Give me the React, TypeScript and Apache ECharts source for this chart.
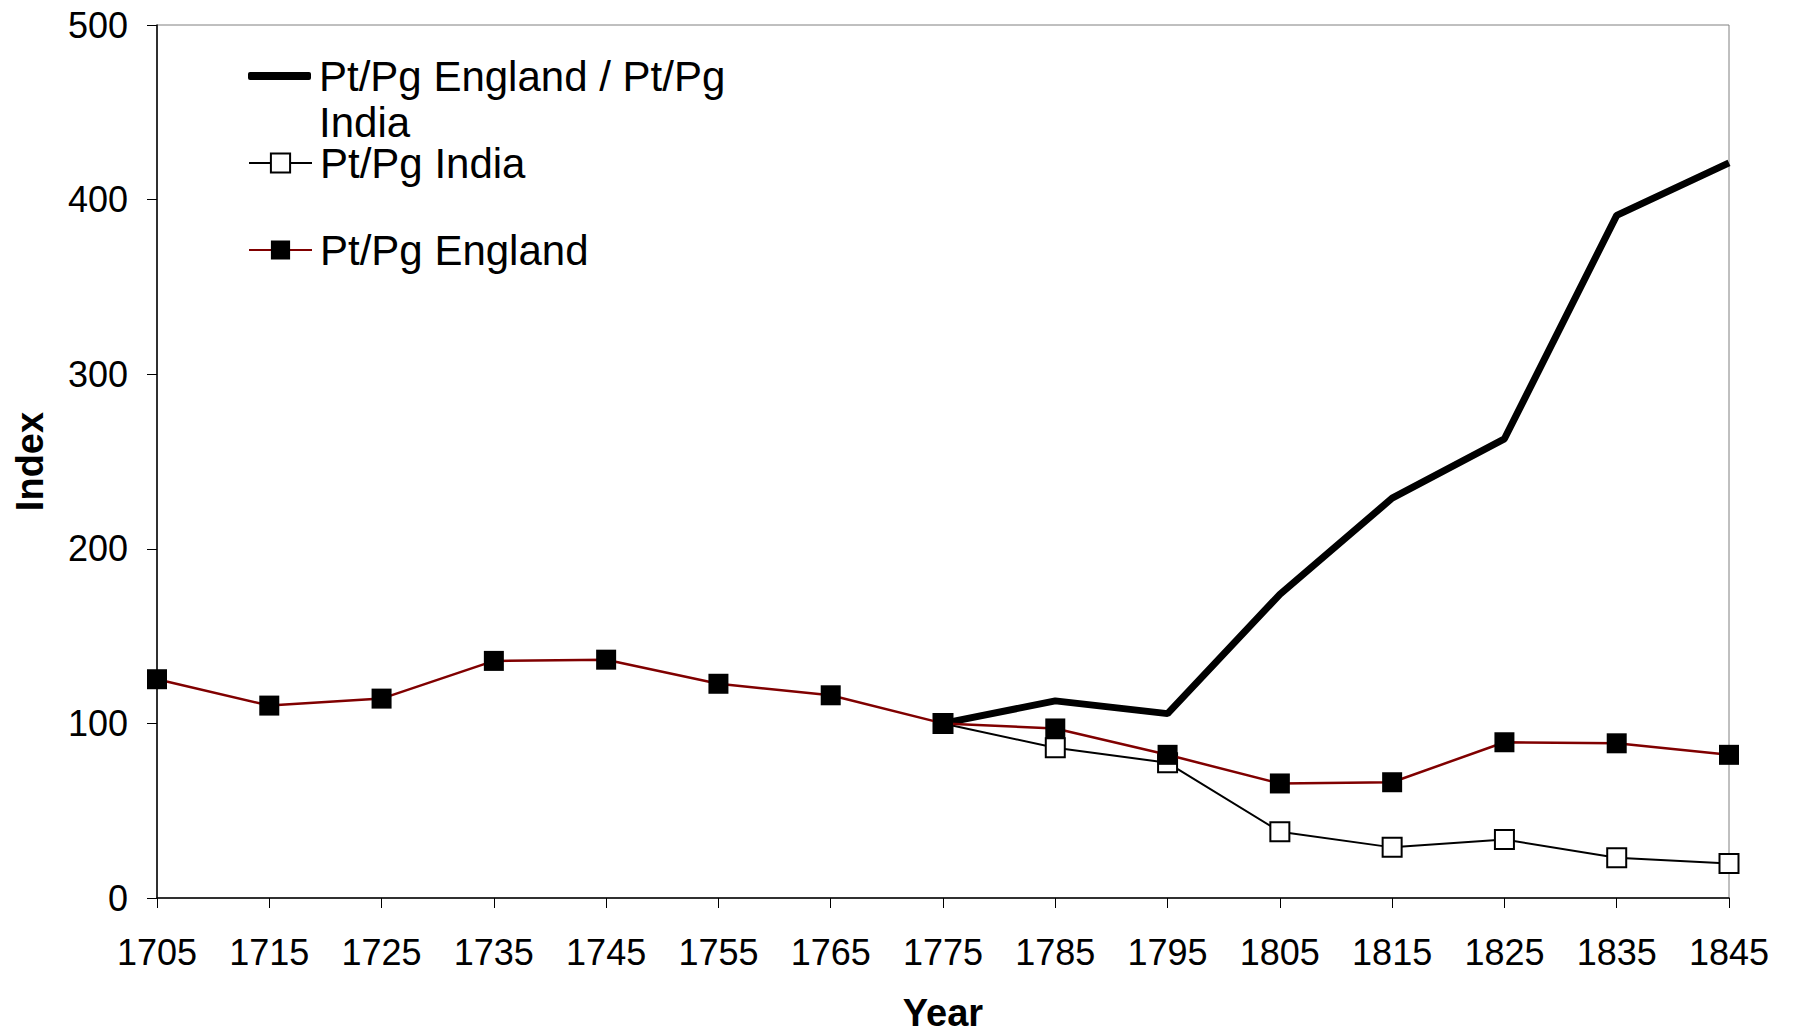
import React, { useEffect, useRef } from "react";
import * as echarts from "echarts";

const years = ["1705","1715","1725","1735","1745","1755","1765","1775","1785","1795","1805","1815","1825","1835","1845"];
const ratioName = "Pt/Pg England / Pt/Pg India";
const indiaName = "Pt/Pg India";
const englandName = "Pt/Pg England";
const ratioValues = [null,null,null,null,null,null,null,100,112.9,105.6,173.9,229,263,391,421];
const indiaValues = [null,null,null,null,null,null,null,100,86,77.4,38,29,33.5,23,19.7];
const englandValues = [125.3,110.2,114.2,135.8,136.5,122.7,116.1,100,97.1,82,65.6,66.3,89.2,88.6,82];
const yTicks = { min: 0, max: 500, interval: 100 };

const FONT = "'Liberation Sans', Arial, sans-serif";

export default function App() {
  const ref = useRef<HTMLDivElement>(null);
  useEffect(() => {
    if (!ref.current) return;
    const chart = echarts.init(ref.current, null, { renderer: "svg" });
    const legendBase = {
      orient: "vertical" as const,
      left: 248,
      padding: 0,
      itemWidth: 63,
      itemHeight: 24,
      selectedMode: false,
      textStyle: { fontFamily: FONT, fontSize: 42, color: "#000", lineHeight: 46, padding: [0, 0, 0, 3] },
    };
    chart.setOption({
      animation: false,
      backgroundColor: "#fff",
      textStyle: { fontFamily: FONT },
      grid: {
        left: 157, right: 66, top: 25, bottom: 136,
        show: true, borderColor: "#808080", borderWidth: 1,
        containLabel: false,
        outerBoundsMode: "none",
      },
      legend: [
        {
          ...legendBase,
          top: 7,
          itemHeight: 8,
          data: [{ name: ratioName, icon: "roundRect" }],
          formatter: () => "\nPt/Pg England / Pt/Pg\nIndia",
        },
        { ...legendBase, top: 140, data: [indiaName] },
        { ...legendBase, top: 227, data: [englandName] },
      ],
      xAxis: {
        type: "category",
        data: years,
        boundaryGap: false,
        name: "Year",
        nameLocation: "middle",
        nameGap: 96,
        nameTextStyle: { fontFamily: FONT, fontSize: 38, fontWeight: "bold", color: "#000" },
        axisLine: { lineStyle: { color: "#000", width: 1.5 } },
        axisTick: { show: true, length: 10, lineStyle: { color: "#000" }, interval: 0 },
        axisLabel: { interval: 0, fontSize: 36, color: "#000", margin: 36, fontFamily: FONT },
        splitLine: { show: false },
      },
      yAxis: {
        type: "value",
        min: yTicks.min,
        max: yTicks.max,
        interval: yTicks.interval,
        name: "Index",
        nameLocation: "middle",
        nameGap: 108,
        nameTextStyle: { fontFamily: FONT, fontSize: 38, fontWeight: "bold", color: "#000" },
        axisLine: { show: true, lineStyle: { color: "#000", width: 1.5 } },
        axisTick: { show: true, length: 10, lineStyle: { color: "#000" } },
        axisLabel: { fontSize: 36, color: "#000", margin: 29, fontFamily: FONT },
        splitLine: { show: false },
      },
      series: [
        {
          name: ratioName,
          type: "line",
          data: ratioValues,
          symbol: "none",
          lineStyle: { color: "#000", width: 7 },
          itemStyle: { color: "#000" },
          z: 2,
        },
        {
          name: indiaName,
          type: "line",
          data: indiaValues,
          symbol: "rect",
          symbolSize: 19,
          lineStyle: { color: "#000", width: 2 },
          itemStyle: { color: "#fff", borderColor: "#000", borderWidth: 2 },
          z: 3,
        },
        {
          name: englandName,
          type: "line",
          data: englandValues,
          symbol: "rect",
          symbolSize: 20,
          lineStyle: { color: "#800000", width: 2.5 },
          itemStyle: { color: "#000" },
          z: 4,
        },
      ],
    });
    return () => chart.dispose();
  }, []);
  return <div ref={ref} style={{ position: "absolute", left: 0, top: 0, width: 1795, height: 1034 }} />;
}
